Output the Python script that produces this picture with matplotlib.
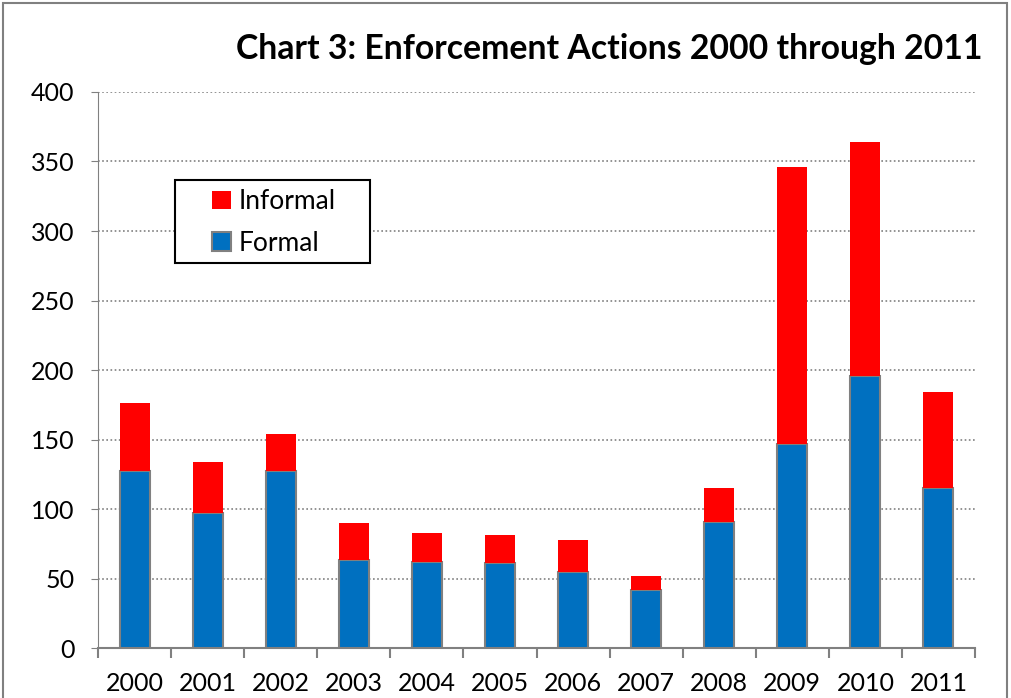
import numpy as np
import matplotlib
matplotlib.use("Agg")
import matplotlib.pyplot as plt
from matplotlib.patches import Rectangle

plt.rcParams['font.family'] = ['Lato', 'DejaVu Sans']

years = ['2000', '2001', '2002', '2003', '2004', '2005',
         '2006', '2007', '2008', '2009', '2010', '2011']
formal = [127, 97, 127, 63, 62, 61, 55, 42, 91, 147, 196, 115]
informal = [49, 37, 27, 27, 21, 20, 23, 10, 24, 199, 168, 69]

fig = plt.figure(figsize=(10.11, 6.98), dpi=100)
ax = fig.add_axes([0.097, 0.0716, 0.8674, 0.7966])

x = np.arange(len(years))
ax.bar(x, formal, width=0.41, color='#0070C0', edgecolor='#808080',
       linewidth=1.5, label='Formal', zorder=3)
ax.bar(x, informal, width=0.41, bottom=formal, color='#FF0000',
       linewidth=0, label='Informal', zorder=3)

ax.set_xlim(-0.5, len(years) - 0.5)
ax.set_ylim(0, 400)
ax.set_yticks(range(0, 401, 50))
ax.tick_params(axis='y', labelsize=18, length=5, color='#808080', pad=12)

ax.set_xticks(x)
ax.set_xticklabels(years, fontsize=18)
ax.set_xticks(np.arange(-0.5, len(years), 1), minor=True)
ax.tick_params(axis='x', which='major', length=0, pad=17)
ax.tick_params(axis='x', which='minor', length=7, color='#808080', width=1.5)

ax.grid(axis='y', linestyle=(0, (1, 1.5)), color='#808080', linewidth=1.2, zorder=0)
for side in ['top', 'right']:
    ax.spines[side].set_visible(False)
ax.spines['left'].set_color('#808080')
ax.spines['bottom'].set_color('#808080')
ax.spines['bottom'].set_linewidth(1.5)

# legend box drawn by hand, entries placed inside it
ax.add_patch(Rectangle((0.0878, 0.6925), 0.2224, 0.1492, transform=ax.transAxes,
                       facecolor='white', edgecolor='black', linewidth=1.5, zorder=4))
handles, labels = ax.get_legend_handles_labels()
leg = ax.legend(handles[::-1], labels[::-1], loc='upper left',
                bbox_to_anchor=(0.13, 0.825), fontsize=19, frameon=False,
                handlelength=0.7, handleheight=0.7, handletextpad=0.3,
                borderpad=0, labelspacing=0.62, borderaxespad=0)
leg.set_zorder(5)

fig.text(0.972, 0.93, 'Chart 3: Enforcement Actions 2000 through 2011',
         ha='right', va='center', fontsize=24.3, fontweight='bold')

fig.patches.append(Rectangle((0.003, -0.01), 0.993, 1.006, transform=fig.transFigure,
                             fill=False, edgecolor='#808080', linewidth=1.5))

fig.savefig('out.png', dpi=100)
